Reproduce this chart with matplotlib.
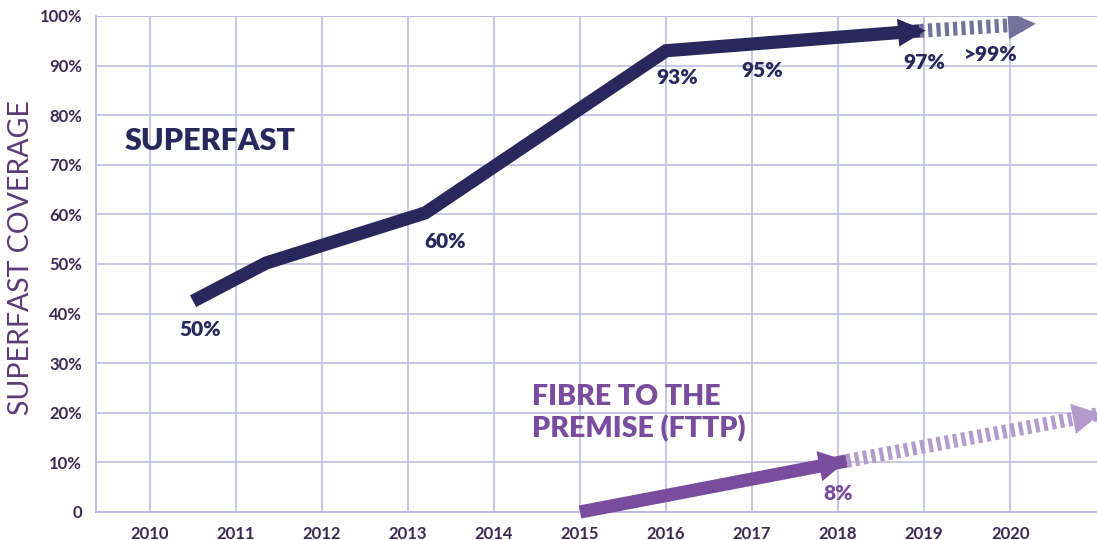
import matplotlib
matplotlib.use("Agg")
import matplotlib.pyplot as plt
from matplotlib.patches import FancyArrowPatch

# ---- data ----
year_ticks = [2010, 2011, 2012, 2013, 2014, 2015, 2016, 2017, 2018, 2019, 2020]
pct_ticks = [0, 10, 20, 30, 40, 50, 60, 70, 80, 90, 100]
pct_labels = ["0", "10%", "20%", "30%", "40%", "50%", "60%", "70%", "80%", "90%", "100%"]

sf_years = [2010.5, 2011.35, 2013.2, 2016.0, 2018.95]
sf_values = [42.5, 50.2, 60.3, 93.0, 97.0]
sf_proj_years = [2018.95, 2020.15]
sf_proj_values = [97.0, 98.3]

fttp_years = [2015.0, 2018.1]
fttp_values = [0.0, 10.3]
fttp_proj_years = [2018.1, 2021.05]
fttp_proj_values = [10.3, 19.8]

sf_label_texts = ["50%", "60%", "93%", "95%", "97%", ">99%"]
sf_label_years = [2010.58, 2013.43, 2016.13, 2017.12, 2019.0, 2019.77]
sf_label_values = [36.7, 54.6, 87.5, 89.1, 90.7, 92.3]
fttp_label_texts = ["8%"]
fttp_label_years = [2018.0]
fttp_label_values = [3.8]

NAVY = "#28285c"
NAVY_LIGHT = "#72729c"
PURPLE = "#7a4c9e"
PURPLE_LIGHT = "#b39bcc"
GRID = "#b9b9de"
TICK = "#3a2a52"
FONT = "Lato"

fig = plt.figure(figsize=(10.97, 5.40), dpi=100)
ax = fig.add_axes([96 / 1097, 28 / 540, 1 - 96 / 1097, (512 - 16) / 540])
ax.set_xlim(2009.372, 2021.01)
ax.set_ylim(0, 100)

ax.set_xticks(year_ticks)
ax.set_xticklabels([str(y) for y in year_ticks])
ax.set_yticks(pct_ticks)
ax.set_yticklabels(pct_labels)
ax.tick_params(length=0, pad=10, colors=TICK)
for lab in ax.get_xticklabels() + ax.get_yticklabels():
    lab.set_fontfamily(FONT)
    lab.set_fontweight("bold")
    lab.set_fontsize(12)
ax.grid(True, color=GRID, lw=1.1)
ax.set_axisbelow(True)
for s in ["top", "right"]:
    ax.spines[s].set_visible(False)
for s in ["left", "bottom"]:
    ax.spines[s].set_color(GRID)
    ax.spines[s].set_linewidth(1.3)
ax.axhline(100, color=GRID, lw=1.1, zorder=0)

ax.set_ylabel("SUPERFAST COVERAGE", fontfamily=FONT, fontsize=20.5, color="#5b3a78")
ax.yaxis.set_label_coords((34 - 96) / (1097 - 96), (512 - 258) / 496)

# Superfast
ax.plot(sf_years, sf_values, color=NAVY, lw=9.5,
        solid_joinstyle="miter", solid_capstyle="butt", zorder=3)
ax.add_patch(FancyArrowPatch((sf_years[-2], sf_values[-2]), (sf_years[-1] + 0.07, sf_values[-1] + 0.08),
                             arrowstyle="-|>,head_length=20,head_width=10", color=NAVY, lw=0,
                             mutation_scale=1, shrinkA=0, shrinkB=0, zorder=4))
# projection
ax.plot(sf_proj_years, sf_proj_values, color=NAVY_LIGHT, lw=10, linestyle=(0, (0.3, 0.3)),
        dash_capstyle="butt", zorder=3)
ax.add_patch(FancyArrowPatch((sf_proj_years[0], sf_proj_values[0]), (sf_proj_years[1] + 0.15, sf_proj_values[1] + 0.15),
                             arrowstyle="-|>,head_length=20,head_width=10", color=NAVY_LIGHT, lw=0,
                             mutation_scale=1, shrinkA=0, shrinkB=0, zorder=4))

# FTTP
ax.plot(fttp_years, fttp_values, color=PURPLE, lw=9.5, solid_capstyle="butt", zorder=3, clip_on=False)
ax.add_patch(FancyArrowPatch((fttp_years[0], fttp_values[0]), (fttp_years[1], fttp_values[1]),
                             arrowstyle="-|>,head_length=20,head_width=11", color=PURPLE, lw=0,
                             mutation_scale=1, shrinkA=0, shrinkB=0, zorder=4))
ax.plot(fttp_proj_years, fttp_proj_values, color=PURPLE_LIGHT, lw=10, linestyle=(0, (0.3, 0.3)),
        dash_capstyle="butt", zorder=3)
ax.add_patch(FancyArrowPatch((fttp_proj_years[0], fttp_proj_values[0]), (fttp_proj_years[1], fttp_proj_values[1]),
                             arrowstyle="-|>,head_length=20,head_width=11", color=PURPLE_LIGHT, lw=0,
                             mutation_scale=1, shrinkA=0, shrinkB=0, zorder=4))

for t, x, y in zip(sf_label_texts, sf_label_years, sf_label_values):
    ax.text(x, y, t, ha="center", va="center", fontfamily=FONT, fontweight="heavy",
            fontsize=15, color=NAVY, zorder=5)
for t, x, y in zip(fttp_label_texts, fttp_label_years, fttp_label_values):
    ax.text(x, y, t, ha="center", va="center", fontfamily=FONT, fontweight="heavy",
            fontsize=15, color=PURPLE, zorder=5)

ax.text(2009.71, 74.7, "SUPERFAST", ha="left", va="center", fontfamily=FONT,
        fontweight="heavy", fontsize=22, color=NAVY, zorder=5)
ax.text(2014.44, 19.9, "FIBRE TO THE\nPREMISE (FTTP)", ha="left", va="center", fontfamily=FONT,
        fontweight="heavy", fontsize=20.5, color=PURPLE, linespacing=1.2, zorder=5)

fig.savefig("out.png", dpi=100)
